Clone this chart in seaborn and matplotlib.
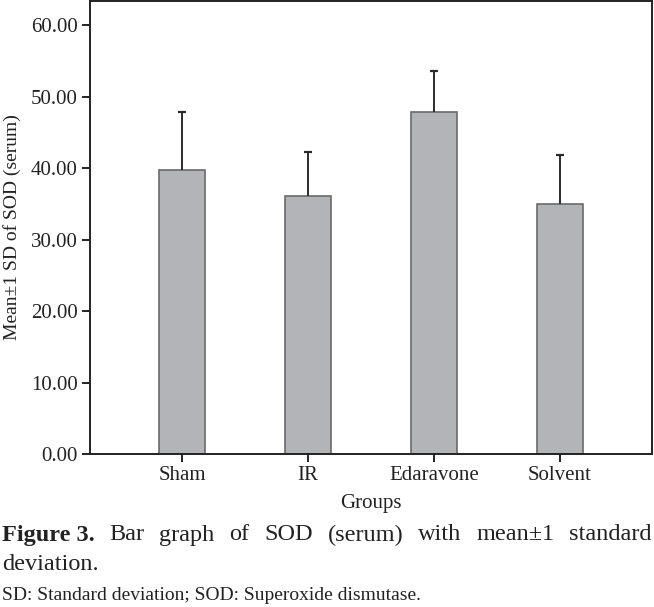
import matplotlib
matplotlib.use("Agg")
import matplotlib.pyplot as plt
import seaborn as sns
import pandas as pd

groups = ["Sham", "IR", "Edaravone", "Solvent"]
means = [39.7, 36.1, 47.8, 35.0]
sds = [8.1, 6.2, 5.8, 6.9]
yticks = [0, 10, 20, 30, 40, 50, 60]

sns.set_style("white")
plt.rcParams["font.family"] = ["Liberation Serif", "DejaVu Serif"]

df = pd.DataFrame({"group": groups, "mean": means})
tops = [m + s for m, s in zip(means, sds)]

W, H = 654, 607
fig = plt.figure(figsize=(W / 100, H / 100), dpi=100)
ax = fig.add_axes([90 / W, 1 - 454 / H, 562 / W, 453 / H])

sns.barplot(data=df, x="group", y="mean", color="#b3b4b8", saturation=1,
            edgecolor="#6a6a6a", linewidth=1.2, width=0.37, errorbar=None, ax=ax)
# upper half of the error bar only, with a small cap
xs = list(range(len(groups)))
ax.vlines(xs, means, tops, color="#2a2a2a", linewidth=1.4, zorder=3)
ax.hlines(tops, [x - 0.035 for x in xs], [x + 0.035 for x in xs],
          color="#2a2a2a", linewidth=1.6, zorder=3)

ax.set_xlim(-0.73, 3.73)
ax.set_ylim(0, 63.4)
ax.set_yticks(yticks)
ax.set_yticklabels(["%.2f" % v for v in yticks])
for s in ax.spines.values():
    s.set_color("#222222")
    s.set_linewidth(1.4)
ax.tick_params(axis="both", direction="out", length=6, width=1.4, color="#222222",
               labelsize=15, labelcolor="#222222", left=True, bottom=True, pad=3)
ax.set_xlabel("Groups", fontsize=15, color="#222222", labelpad=6)
ax.set_ylabel("Mean±1 SD of SOD (serum)", fontsize=14, color="#222222", labelpad=7)

# justified caption line
words = ["Figure 3.", "Bar", "graph", "of", "SOD", "(serum)", "with", "mean±1", "standard"]
y1 = 1 - 535 / H
items = []
for i, w in enumerate(words):
    t = fig.text(0, y1, w, fontsize=17.5, color="#222222", va="center",
                 fontweight="bold" if i == 0 else "normal")
    items.append(t)
fig.canvas.draw()
r = fig.canvas.get_renderer()
widths = [t.get_window_extent(r).width for t in items]
left, right = 2, 652
gap = (right - left - sum(widths)) / (len(words) - 1)
x = left
for t, w in zip(items, widths):
    t.set_x(x / W)
    x += w + gap

fig.text(2 / W, 1 - 564 / H, "deviation.", fontsize=17.5, color="#222222", va="center")
fig.text(2 / W, 1 - 596 / H, "SD: Standard deviation; SOD: Superoxide dismutase.",
         fontsize=14, color="#222222", va="center")

fig.savefig("out.png", dpi=100)
